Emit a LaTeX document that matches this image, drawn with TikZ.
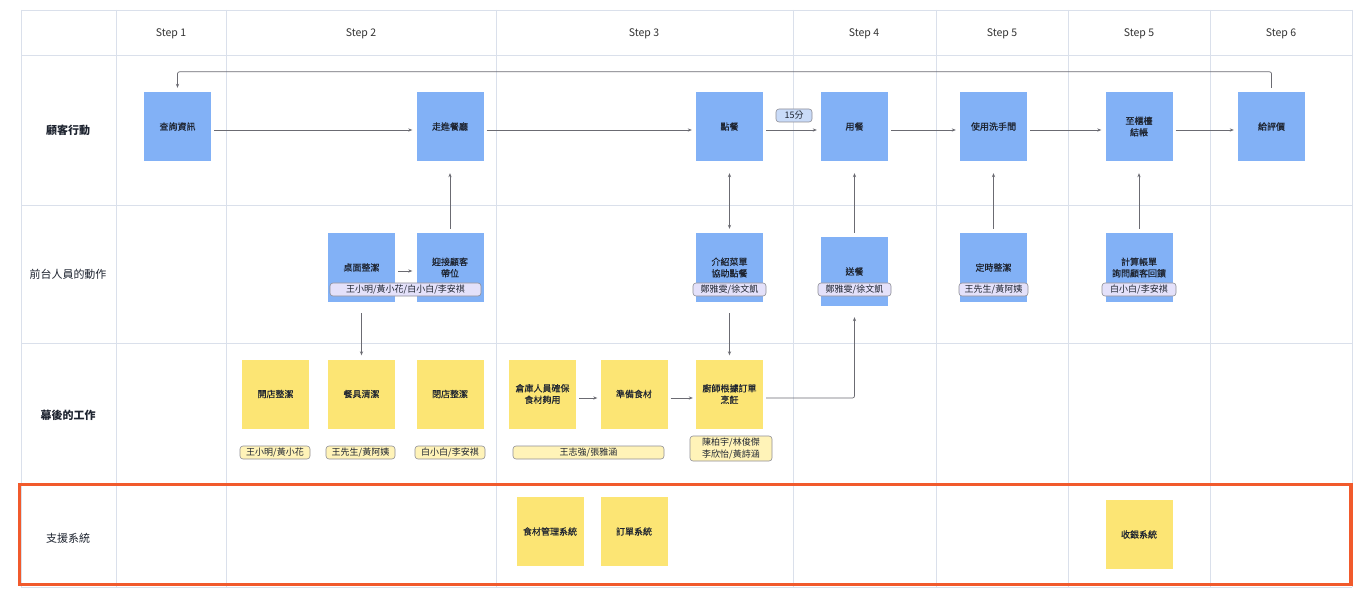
\documentclass[tikz,border=0pt]{standalone}
\usepackage{fontspec}
\setmainfont{Noto Sans CJK TC}
\newfontfamily\boxfont[FakeBold=0.5]{Noto Sans CJK TC}
\usetikzlibrary{arrows.meta,calc}
\definecolor{gridc}{HTML}{DAE0EB}
\definecolor{boxblue}{HTML}{82B1F6}
\definecolor{boxyel}{HTML}{FCE574}
\definecolor{lav}{HTML}{E4E1FA}
\definecolor{pillyel}{HTML}{FFF3B8}
\definecolor{pillblue}{HTML}{C9DBF8}
\definecolor{pillc}{HTML}{8E8E96}
\definecolor{arrc}{HTML}{6B6B72}
\definecolor{textc}{HTML}{1E2430}
\definecolor{hdrc}{HTML}{333333}
\definecolor{orangec}{HTML}{F15A2C}
\tikzset{
  cell/.style={draw=gridc, line width=0.8pt},
  bbox/.style={fill=boxblue, minimum width=67pt, minimum height=69pt, inner sep=0pt, align=center, font=\boxfont\fontsize{9}{11.5}\selectfont, text=textc},
  ybox/.style={fill=boxyel, minimum width=67pt, minimum height=69pt, inner sep=0pt, align=center, font=\boxfont\fontsize{9}{11.5}\selectfont, text=textc},
  lpill/.style={draw=pillc, fill=lav, rounded corners=3pt, minimum height=13pt, inner sep=0pt, line width=0.6pt, font=\fontsize{9}{11}\selectfont, text=textc},
  ypill/.style={draw=pillc, fill=pillyel, rounded corners=3pt, minimum height=13pt, inner sep=0pt, line width=0.6pt, align=center, font=\fontsize{9}{11.5}\selectfont, text=textc},
  arr/.style={draw=arrc, line width=0.7pt, -{Stealth[length=4pt,width=3.2pt]}},
  darr/.style={draw=arrc, line width=0.7pt, {Stealth[length=4pt,width=3.2pt]}-{Stealth[length=4pt,width=3.2pt]}},
  hdr/.style={font=\fontsize{10.5}{12}\selectfont, text=hdrc},
  rowlab/.style={font=\fontsize{11}{13}\selectfont, text=textc},
}
\begin{document}
\begin{tikzpicture}[x=1pt,y=-1pt]
\useasboundingbox[fill=white] (0,0) rectangle (1366,604);
% grid
\foreach \yy in {10,55,205,343,484,587} \draw[cell] (21,\yy) -- (1352,\yy);
\foreach \xx in {21,116,226,496,793,936,1068,1210,1352} \draw[cell] (\xx,10) -- (\xx,587);
% headers
\node[hdr] (h1) at (171,34) {Step 1};
\node[hdr] (h2) at (361,34) {Step 2};
\node[hdr] (h3) at (644,34) {Step 3};
\node[hdr] (h4) at (864,34) {Step 4};
\node[hdr] (h5) at (1002,34) {Step 5};
\node[hdr] (h5b) at (1139,34) {Step 5};
\node[hdr] (h6) at (1281,34) {Step 6};
% row labels
\node[rowlab, font=\fontsize{11}{13}\selectfont\bfseries] (r1) at (68,130) {顧客行動};
\node[rowlab] (r2) at (68,274) {前台人員的動作};
\node[rowlab, font=\fontsize{11}{13}\selectfont\bfseries] (r3) at (68,415) {幕後的工作};
\node[rowlab] (r4) at (68,538) {支援系統};
% row 1
\node[bbox] (q) at (177.5,126.5) {查詢資訊};
\node[bbox] (w) at (450,126.5) {走進餐廳};
\node[bbox] (o) at (729.5,126.5) {點餐};
\node[bbox] (e) at (854.5,126.5) {用餐};
\node[bbox] (t) at (993.5,126.5) {使用洗手間};
\node[bbox] (p) at (1139,126.5) {至櫃檯\\結帳};
\node[bbox] (g) at (1271.5,126.5) {給評價};
% row 2
\node[bbox] (tbl) at (361.5,267.5) {桌面整潔};
\node[bbox] (wel) at (450,267.5) {迎接顧客\\帶位};
\node[bbox] (intro) at (729.5,267.5) {介紹菜單\\協助點餐};
\node[bbox] (serve) at (854.5,271.5) {送餐};
\node[bbox] (cln) at (993.5,267.5) {定時整潔};
\node[bbox] (bill) at (1139,267.5) {計算帳單\\詢問顧客回饋};
\node[lpill, minimum width=151pt] (pa) at (405.5,289.5) {王小明/黃小花/白小白/李安祺};
\node[lpill, minimum width=73pt] (pb) at (729.5,289.5) {鄭雅雯/徐文凱};
\node[lpill, minimum width=73pt] (pc) at (854.5,289.5) {鄭雅雯/徐文凱};
\node[lpill, minimum width=69pt] (pd) at (993.5,289.5) {王先生/黃阿姨};
\node[lpill, minimum width=74pt] (pe) at (1139,289.5) {白小白/李安祺};
% row 3
\node[ybox] (open) at (275.5,394) {開店整潔};
\node[ybox] (dish) at (361.5,394) {餐具清潔};
\node[ybox] (close) at (450,394) {閉店整潔};
\node[ybox] (store) at (542.5,394) {倉庫人員確保\\食材夠用};
\node[ybox] (prep) at (634,394) {準備食材};
\node[ybox] (cook) at (729.5,394) {廚師根據訂單\\烹飪};
\node[ypill, minimum width=70pt] (ya) at (275,452.5) {王小明/黃小花};
\node[ypill, minimum width=69pt] (yb) at (360.5,452.5) {王先生/黃阿姨};
\node[ypill, minimum width=70pt] (yc) at (450,452.5) {白小白/李安祺};
\node[ypill, minimum width=151pt] (yd) at (588.5,452.5) {王志強/張雅涵};
\node[ypill, minimum width=82pt, minimum height=25pt] (ye) at (731,448.5) {陳柏宇/林俊傑\\李欣怡/黃詩涵};
% row 4
\node[ybox] (s1) at (550,531.5) {食材管理系統};
\node[ybox] (s2) at (634,531.5) {訂單系統};
\node[ybox] (s3) at (1139,534.5) {收銀系統};
% time label
\node[draw=pillc, fill=pillblue, rounded corners=3pt, minimum width=36pt, minimum height=13pt, inner sep=0pt, line width=0.6pt, font=\fontsize{9}{11}\selectfont, text=textc] (min) at (794,115.5) {15分};
% row 1 arrows
\foreach \a/\b in {q/w,w/o,o/e,e/t,t/p,p/g}
  \draw[arr, shorten <=3pt, shorten >=4pt] ([yshift=-3.5pt]\a.east) -- ([yshift=-3.5pt]\b.west);
% loop back
\draw[arr, rounded corners=2pt] ([yshift=4pt]g.north) -- ++(0,-16) -| ([yshift=4pt]q.north);
% row 2 arrows
\draw[arr, shorten <=3pt, shorten >=4pt] ([yshift=-3.5pt]tbl.east) -- ([yshift=-3.5pt]wel.west);
\draw[arr] ([yshift=4pt]wel.north) -- ([yshift=-12pt]w.south);
\draw[darr] ([yshift=-12pt]o.south) -- ([yshift=4pt]intro.north);
\draw[arr] ([yshift=4pt]serve.north) -- ([yshift=-12pt]e.south);
\draw[arr] ([yshift=4pt]cln.north) -- ([yshift=-12pt]t.south);
\draw[arr] ([yshift=4pt]bill.north) -- ([yshift=-12pt]p.south);
% row 2 to 3
\draw[arr] ([yshift=-11pt]tbl.south) -- ([yshift=4pt]dish.north);
\draw[arr] ([yshift=-11pt]intro.south) -- ([yshift=4pt]cook.north);
% row 3 arrows
\draw[arr, shorten <=3pt, shorten >=3pt] ([yshift=-4pt]store.east) -- ([yshift=-4pt]prep.west);
\draw[arr, shorten <=3pt, shorten >=3pt] ([yshift=-4pt]prep.east) -- ([yshift=-4pt]cook.west);
\draw[arr, rounded corners=2pt] ([xshift=3pt,yshift=-4pt]cook.east) -| ([yshift=-11pt]serve.south);
% highlight
\draw[orangec, line width=3.2pt] (19.5,484.5) rectangle (1351,584.5);
\end{tikzpicture}
\end{document}
